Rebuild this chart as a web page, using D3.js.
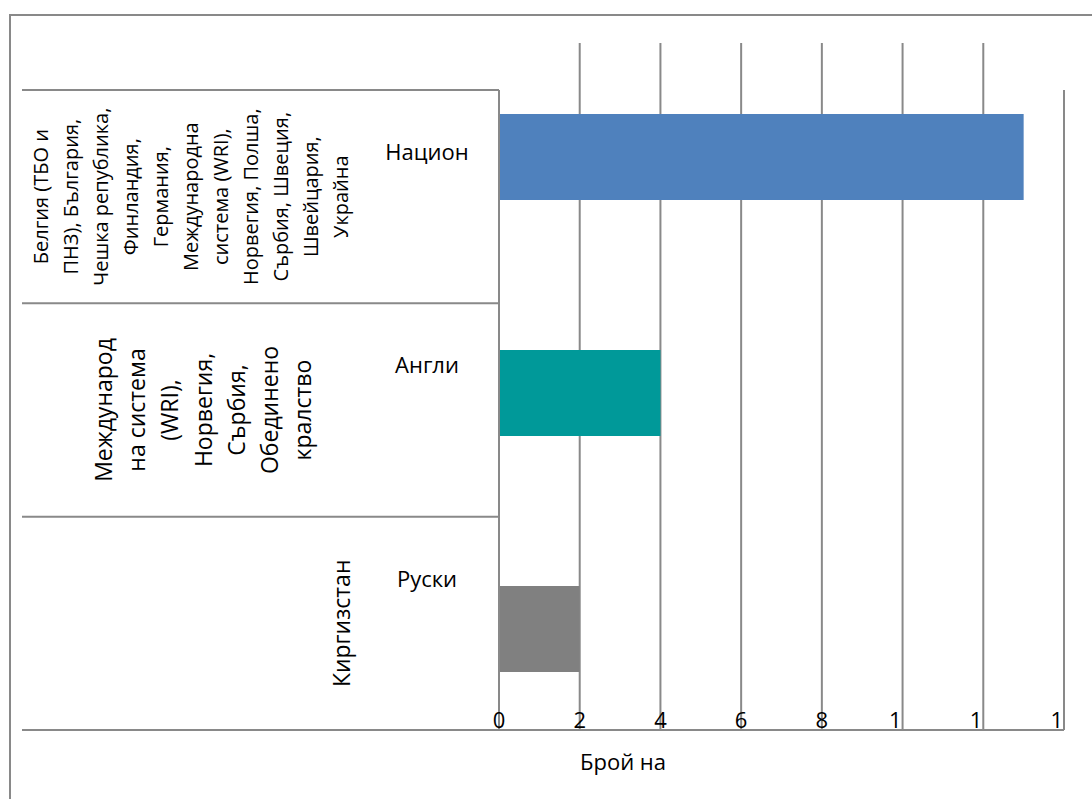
<!DOCTYPE html>
<html>
<head>
<meta charset="utf-8">
<script src="https://cdn.jsdelivr.net/npm/d3@7"></script>
<style>
  html, body { margin: 0; padding: 0; background: #fff; }
  svg { display: block; font-family: "Open Sans", "Noto Sans", sans-serif; }
</style>
</head>
<body>
<svg id="chart" width="1092" height="799"></svg>
<script>
// ---- data ----
const categories = ["Национ", "Англи", "Руски"];
const values = [13, 4, 2];
const groupLabels = [
  ["Белгия (ТБО и", "ПНЗ), България,", "Чешка република,", "Финландия,", "Германия,",
   "Международна", "система (WRI),", "Норвегия, Полша,", "Сърбия, Швеция,", "Швейцария,", "Украйна"],
  ["Международ", "на система", "(WRI),", "Норвегия,", "Сърбия,", "Обединено", "кралство"],
  ["Киргизстан"]
];
const tickValues = [0, 2, 4, 6, 8, 10, 12, 14];
const tickLabels = ["0", "2", "4", "6", "8", "1", "1", "1"];
const axisTitle = "Брой на";

// ---- styles / layout ----
const barColors = ["#4F81BD", "#009999", "#808080"];
const lineColor = "#898989";
const groupBaseX = [48, 112, 350];
const groupGap = [30, 33.2, 0];
const groupFont = [20, 23, 23];

const svg = d3.select("#chart");

const x = d3.scaleLinear().domain([0, 14]).range([499, 1064]);
// category frame bands
const yFrame = d3.scaleBand().domain(categories).range([90, 730]);
// bar bands
const yBar = d3.scaleBand().domain(categories).range([39, 747])
  .paddingInner(150 / 236).paddingOuter(75 / 236);

// outer chart border
svg.append("path")
  .attr("d", "M10,799 L10,15 L1092,15")
  .attr("fill", "none").attr("stroke", lineColor).attr("stroke-width", 2);

// gridlines
svg.append("g").selectAll("line")
  .data(tickValues)
  .join("line")
  .attr("x1", d => x(d)).attr("x2", d => x(d))
  .attr("y1", d => (d === 0 || d === 14) ? yFrame.range()[0] : 43)
  .attr("y2", yFrame.range()[1])
  .attr("stroke", lineColor).attr("stroke-width", 2);

// bars
svg.append("g").selectAll("rect")
  .data(categories)
  .join("rect")
  .attr("x", x(0) + 1)
  .attr("y", d => yBar(d))
  .attr("width", (d, i) => x(values[i]) - x(0) - 1)
  .attr("height", yBar.bandwidth())
  .attr("fill", (d, i) => barColors[i]);

// category frame lines
const frameLeft = 22;
const bounds = categories.map(c => yFrame(c)).concat([yFrame.range()[1]]);
svg.append("g").selectAll("line")
  .data(bounds)
  .join("line")
  .attr("x1", frameLeft)
  .attr("x2", (d, i) => i === bounds.length - 1 ? x(14) : x(0))
  .attr("y1", d => d).attr("y2", d => d)
  .attr("stroke", lineColor).attr("stroke-width", 2);
svg.append("line")
  .attr("x1", x(0)).attr("x2", x(0))
  .attr("y1", yFrame.range()[0]).attr("y2", yFrame.range()[1])
  .attr("stroke", lineColor).attr("stroke-width", 2);

// inner category labels
svg.append("g").selectAll("text")
  .data(categories)
  .join("text")
  .attr("x", 427)
  .attr("y", d => yFrame(d) + 70)
  .attr("text-anchor", "middle")
  .attr("font-size", 22)
  .attr("fill", "#000")
  .text(d => d);

// rotated group labels
groupLabels.forEach((lines, gi) => {
  const cy = yFrame(categories[gi]) + yFrame.bandwidth() / 2;
  svg.append("g").selectAll("text")
    .data(lines)
    .join("text")
    .attr("transform", (d, j) => `translate(${groupBaseX[gi] + j * groupGap[gi]},${cy}) rotate(-90)`)
    .attr("text-anchor", "middle")
    .attr("font-size", groupFont[gi])
    .attr("fill", "#000")
    .text(d => d);
});

// x tick labels
svg.append("g").selectAll("text")
  .data(tickValues)
  .join("text")
  .attr("x", d => d >= 10 ? x(d) - 1 : x(d))
  .attr("y", 728)
  .attr("text-anchor", d => d >= 10 ? "end" : "middle")
  .attr("font-size", 22)
  .attr("fill", "#000")
  .text((d, i) => tickLabels[i]);

// axis title
svg.append("text")
  .attr("x", 623)
  .attr("y", 770)
  .attr("text-anchor", "middle")
  .attr("font-size", 22)
  .attr("fill", "#000")
  .text(axisTitle);
</script>
</body>
</html>
